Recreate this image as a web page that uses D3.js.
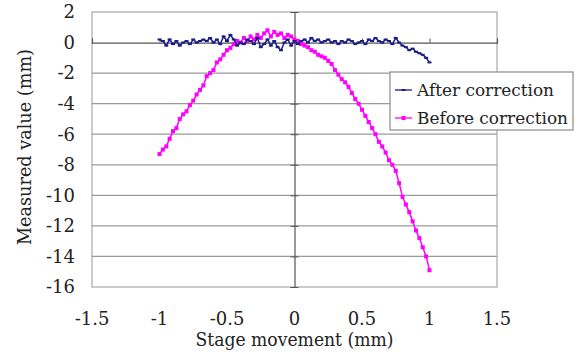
<!DOCTYPE html>
<html>
<head>
<meta charset="utf-8">
<script src="https://cdn.jsdelivr.net/npm/d3@7"></script>
<style>
  body { margin: 0; background: #fff; }
  #chart text { font-family: "DejaVu Serif", "Liberation Serif", serif; }
</style>
</head>
<body>
<svg id="chart" width="584" height="360"></svg>
<script>
// stage positions (mm)
const stageX = [
  -1.000, -0.975, -0.950, -0.925, -0.900, -0.875, -0.850, -0.825, -0.800, -0.775,
  -0.750, -0.725, -0.700, -0.675, -0.650, -0.625, -0.600, -0.575, -0.550, -0.525,
  -0.500, -0.475, -0.450, -0.425, -0.400, -0.375, -0.350, -0.325, -0.300, -0.275,
  -0.250, -0.225, -0.200, -0.175, -0.150, -0.125, -0.100, -0.075, -0.050, -0.025,
   0.000,  0.025,  0.050,  0.075,  0.100,  0.125,  0.150,  0.175,  0.200,  0.225,
   0.250,  0.275,  0.300,  0.325,  0.350,  0.375,  0.400,  0.425,  0.450,  0.475,
   0.500,  0.525,  0.550,  0.575,  0.600,  0.625,  0.650,  0.675,  0.700,  0.725,
   0.750,  0.775,  0.800,  0.825,  0.850,  0.875,  0.900,  0.925,  0.950,  0.975,
   1.000
];

const afterCorrection = [
   0.2,  0.1, -0.2,  0.2, -0.1,  0.1, -0.2,  0.0,  0.1, -0.1,
   0.2,  0.0,  0.1,  0.2,  0.1,  0.3,  0.0,  0.2, -0.1,  0.4,
   0.1,  0.5,  0.2, -0.2,  0.0, -0.1,  0.2,  0.1, -0.1,  0.3,
  -0.3, -0.1,  0.2, -0.2,  0.1, -0.3, -0.5,  0.0,  0.2, -0.2,
   0.1, -0.1,  0.1,  0.2,  0.0,  0.3,  0.1,  0.2,  0.0,  0.1,
   0.2,  0.0,  0.1, -0.1,  0.1,  0.0,  0.2,  0.1, -0.1,  0.0,
   0.1, -0.1,  0.2,  0.1,  0.3,  0.1,  0.0,  0.2,  0.1, -0.1,
   0.3,  0.0, -0.2, -0.3, -0.5, -0.4, -0.6, -0.7, -0.8, -1.0,
  -1.3
];

const beforeCorrection = [
  -7.3, -7.0, -6.8, -6.3, -5.8, -5.6, -5.0, -4.7, -4.5, -4.1,
  -3.8, -3.4, -3.1, -2.8, -2.2, -2.0, -1.8, -1.3, -1.1, -0.8,
  -0.5, -0.35, -0.1, 0.1,  0.0,  0.3,  0.1,  0.4,  0.2,  0.5,
   0.3,  0.6,  0.8,  0.4,  0.7,  0.5,  0.6,  0.3,  0.5,  0.4,
   0.2,  0.1, -0.1, -0.2, -0.3, -0.5, -0.6, -0.8, -0.9, -1.0,
  -1.2, -1.4, -1.8, -2.1, -2.4, -2.6, -2.9, -3.3, -3.7, -4.0,
  -4.4, -4.8, -5.2, -5.6, -6.0, -6.5, -6.8, -7.2, -7.7, -8.0,
  -8.4, -9.2, -10.1, -10.6, -11.1, -11.7, -12.3, -12.8, -13.4, -14.0,
  -14.9
];

const xTicks = [-1.5, -1, -0.5, 0, 0.5, 1, 1.5];
const yTicks = [2, 0, -2, -4, -6, -8, -10, -12, -14, -16];
const seriesNames = ["After correction", "Before correction"];

const svg = d3.select("#chart");
const plot = { left: 92, right: 497, top: 12, bottom: 287 };
const ink = "#222";
const fs = 18;

const x = d3.scaleLinear().domain([-1.5, 1.5]).range([plot.left, plot.right]);
const y = d3.scaleLinear().domain([-16, 2]).range([plot.bottom, plot.top]);

// plot frame
svg.append("rect")
  .attr("x", plot.left).attr("y", plot.top)
  .attr("width", plot.right - plot.left).attr("height", plot.bottom - plot.top)
  .attr("fill", "#fff").attr("stroke", "#a8a8a8").attr("stroke-width", 1.2);

// horizontal gridlines
svg.append("g")
  .selectAll("line")
  .data(yTicks.filter(d => d !== 0 && d !== 2 && d !== -16))
  .join("line")
  .attr("x1", plot.left).attr("x2", plot.right)
  .attr("y1", d => y(d)).attr("y2", d => y(d))
  .attr("stroke", "#9a9a9a").attr("stroke-width", 1.2);

// axes crossing at zero
const xAxis = d3.axisTop(x).tickValues(xTicks).tickSize(4).tickFormat("");
svg.append("g")
  .attr("transform", `translate(0,${y(0)})`)
  .call(xAxis)
  .call(g => g.select(".domain").attr("stroke", "#555").attr("stroke-width", 1.2))
  .call(g => g.selectAll(".tick line").attr("stroke", "#555"));

const yAxis = d3.axisLeft(y).tickValues(yTicks).tickSize(4).tickFormat("");
svg.append("g")
  .attr("transform", `translate(${x(0)},0)`)
  .call(yAxis)
  .call(g => g.select(".domain").attr("stroke", "#555").attr("stroke-width", 1.2))
  .call(g => g.selectAll(".tick line").attr("stroke", "#555").attr("x2", 4).attr("x1", -4));

// tick labels
svg.append("g")
  .selectAll("text")
  .data(yTicks)
  .join("text")
  .attr("x", 75).attr("y", d => y(d))
  .attr("dy", "0.35em")
  .attr("text-anchor", "end")
  .attr("font-size", fs)
  .attr("fill", ink)
  .text(d => d);

svg.append("g")
  .selectAll("text")
  .data(xTicks)
  .join("text")
  .attr("x", d => x(d)).attr("y", 325)
  .attr("text-anchor", "middle")
  .attr("font-size", fs)
  .attr("fill", ink)
  .text(d => d);

// axis titles
svg.append("text")
  .attr("x", x(0)).attr("y", 346)
  .attr("text-anchor", "middle")
  .attr("font-size", fs)
  .attr("fill", ink)
  .attr("textLength", 198)
  .attr("lengthAdjust", "spacingAndGlyphs")
  .text("Stage movement (mm)");

svg.append("text")
  .attr("transform", `translate(31,147) rotate(-90)`)
  .attr("text-anchor", "middle")
  .attr("font-size", fs)
  .attr("fill", ink)
  .attr("textLength", 196)
  .attr("lengthAdjust", "spacingAndGlyphs")
  .text("Measured value (mm)");

// series
const line = d3.line()
  .x((d, i) => x(stageX[i]))
  .y(d => y(d));

const navy = "#1c1c86";
const magenta = "#ff00ff";

svg.append("path")
  .datum(beforeCorrection)
  .attr("d", line)
  .attr("fill", "none").attr("stroke", magenta).attr("stroke-width", 1.5);

svg.append("g")
  .selectAll("rect")
  .data(beforeCorrection)
  .join("rect")
  .attr("x", (d, i) => x(stageX[i]) - 2)
  .attr("y", d => y(d) - 2)
  .attr("width", 4).attr("height", 4)
  .attr("fill", magenta);

svg.append("path")
  .datum(afterCorrection)
  .attr("d", line)
  .attr("fill", "none").attr("stroke", navy).attr("stroke-width", 1.5);

svg.append("g")
  .selectAll("rect")
  .data(afterCorrection)
  .join("rect")
  .attr("x", (d, i) => x(stageX[i]) - 2)
  .attr("y", d => y(d) - 1)
  .attr("width", 4).attr("height", 2)
  .attr("fill", navy);

// legend
const legend = svg.append("g");
legend.append("rect")
  .attr("x", 390).attr("y", 72)
  .attr("width", 183).attr("height", 58)
  .attr("fill", "#fff").attr("stroke", "#8a8a8a").attr("stroke-width", 1.2);

const legendRows = legend.selectAll("g.row")
  .data(seriesNames)
  .join("g")
  .attr("class", "row")
  .attr("transform", (d, i) => `translate(0,${90 + i * 28})`);

legendRows.append("line")
  .attr("x1", 395).attr("x2", 412)
  .attr("stroke", (d, i) => i === 0 ? navy : magenta)
  .attr("stroke-width", 1.3);

legendRows.append("rect")
  .attr("x", 401.5)
  .attr("y", (d, i) => i === 0 ? -1 : -2)
  .attr("width", 4)
  .attr("height", (d, i) => i === 0 ? 2 : 4)
  .attr("fill", (d, i) => i === 0 ? navy : magenta);

legendRows.append("text")
  .attr("x", 417).attr("dy", "0.35em")
  .attr("font-size", 17)
  .attr("fill", ink)
  .attr("textLength", (d, i) => i === 0 ? 137 : 151)
  .attr("lengthAdjust", "spacingAndGlyphs")
  .text(d => d);
</script>
</body>
</html>
